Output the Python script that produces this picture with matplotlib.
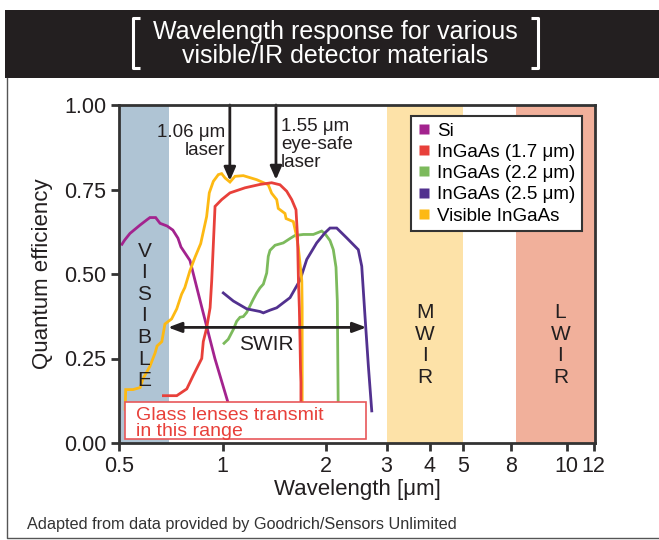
import matplotlib
matplotlib.use("Agg")
import matplotlib.pyplot as plt
from matplotlib.lines import Line2D
from matplotlib.patches import Rectangle

plt.rcParams['font.family'] = ['Liberation Sans', 'DejaVu Sans']

# ---------------- data ----------------
si_w = [0.510, 0.519, 0.538, 0.576, 0.602, 0.615, 0.639, 0.658, 0.690, 0.717, 0.742, 0.757, 0.804, 0.871, 0.950, 1.037, 1.05]
si_q = [0.588, 0.600, 0.620, 0.645, 0.660, 0.667, 0.667, 0.650, 0.642, 0.630, 0.606, 0.580, 0.540, 0.400, 0.250, 0.120, 0.09]

r17_w = [0.673, 0.736, 0.787, 0.822, 0.870, 0.879, 0.899, 0.920, 0.930, 0.951, 0.994, 1.051, 1.162, 1.285, 1.389, 1.469, 1.536, 1.589, 1.635, 1.652, 1.662, 1.672, 1.680, 1.685, 1.690, 1.690]
r17_q = [0.140, 0.140, 0.160, 0.200, 0.250, 0.300, 0.340, 0.400, 0.480, 0.700, 0.720, 0.740, 0.755, 0.765, 0.770, 0.764, 0.745, 0.720, 0.690, 0.610, 0.480, 0.400, 0.300, 0.220, 0.180, 0.080]

g22_w = [1.010, 1.039, 1.075, 1.099, 1.124, 1.149, 1.175, 1.201, 1.228, 1.257, 1.285, 1.314, 1.344, 1.358, 1.374, 1.421, 1.502, 1.571, 1.624, 1.717, 1.836, 1.942, 1.986, 2.053, 2.099, 2.137, 2.156, 2.170]
g22_q = [0.295, 0.307, 0.336, 0.360, 0.372, 0.374, 0.386, 0.405, 0.425, 0.444, 0.459, 0.470, 0.503, 0.552, 0.570, 0.585, 0.592, 0.605, 0.614, 0.617, 0.617, 0.627, 0.619, 0.599, 0.572, 0.520, 0.420, 0.080]

p25_w = [1.005, 1.075, 1.175, 1.285, 1.314, 1.374, 1.437, 1.502, 1.571, 1.680, 1.757, 1.878, 1.986, 2.053, 2.147, 2.295, 2.481, 2.539, 2.595, 2.654, 2.715]
p25_q = [0.444, 0.420, 0.397, 0.389, 0.385, 0.393, 0.400, 0.415, 0.430, 0.482, 0.543, 0.592, 0.622, 0.636, 0.636, 0.607, 0.572, 0.523, 0.375, 0.228, 0.095]

vis_w = [0.521, 0.523, 0.549, 0.576, 0.587, 0.615, 0.637, 0.645, 0.666, 0.680, 0.694, 0.711, 0.736, 0.760, 0.777, 0.804, 0.832, 0.864, 0.899, 0.915, 0.940, 0.972, 0.994, 1.017, 1.051, 1.087, 1.149, 1.257, 1.358, 1.389, 1.437, 1.452, 1.519, 1.530, 1.606, 1.643, 1.660, 1.680, 1.700, 1.704, 1.704]
vis_q = [0.100, 0.158, 0.158, 0.164, 0.190, 0.227, 0.267, 0.287, 0.300, 0.352, 0.359, 0.367, 0.397, 0.440, 0.460, 0.510, 0.550, 0.590, 0.670, 0.740, 0.774, 0.794, 0.797, 0.784, 0.772, 0.789, 0.791, 0.779, 0.764, 0.739, 0.720, 0.694, 0.679, 0.664, 0.655, 0.610, 0.580, 0.530, 0.480, 0.400, 0.080]

series_names = ['Si', 'InGaAs (1.7 \u03bcm)', 'InGaAs (2.2 \u03bcm)', 'InGaAs (2.5 \u03bcm)', 'Visible InGaAs']
series_colors = ['#a3238e', '#e8403a', '#7cba5c', '#52318f', '#fdb913']

bands = [(0.5, 0.7, '#afc4d4', 'VISIBLE'), (3.0, 5.0, '#fde2a8', 'MWIR'), (7.15, 12.1, '#f1b09b', 'LWIR')]

xticks = [0.5, 1, 2, 3, 4, 5, 6.9, 10, 12]
xtick_labels = ['0.5', '1', '2', '3', '4', '5', '8', '10', '12']
yticks = [0.0, 0.25, 0.5, 0.75, 1.0]
ytick_labels = ['0.00', '0.25', '0.50', '0.75', '1.00']

laser_x = [1.05, 1.43]
laser_tip = [0.776, 0.779]
swir_range = (0.694, 2.62)
glass_box = (0.520, 2.61, 0.012, 0.122)

# ---------------- figure ----------------
W, H = 659, 540
fig = plt.figure(figsize=(W / 100, H / 100), dpi=100)

def fx(x):
    return x / W

def fy(y):
    return 1 - y / H

# header
fig.patches.append(Rectangle((fx(5), fy(78)), fx(654), 68 / H, transform=fig.transFigure,
                             facecolor='#231f20', edgecolor='none', zorder=0))
fig.text(fx(335), fy(44), 'Wavelength response for various\nvisible/IR detector materials',
         color='white', fontsize=18, ha='center', va='center', linespacing=1.05)
# brackets
bk = dict(color='white', lw=2.2, transform=fig.transFigure, solid_capstyle='butt')
fig.lines.append(Line2D([fx(140), fx(133), fx(133), fx(140)], [fy(18), fy(18), fy(68), fy(68)], **bk))
fig.lines.append(Line2D([fx(531), fx(538), fx(538), fx(531)], [fy(18), fy(18), fy(68), fy(68)], **bk))

# outer frame (left and bottom)
fig.lines.append(Line2D([fx(7), fx(7), fx(659)], [fy(78), fy(538), fy(538)], color='#555555', lw=1.0,
                        transform=fig.transFigure))

ax = fig.add_axes([fx(119), fy(443), (595 - 119) / W, (443 - 105) / H])
ax.set_xscale('log')
ax.set_xlim(0.5, 12.1)
ax.set_ylim(0, 1.0)

for lo, hi, c, name in bands:
    ax.axvspan(lo, hi, color=c, lw=0, zorder=0)

ws = [si_w, r17_w, g22_w, p25_w, vis_w]
qs = [si_q, r17_q, g22_q, p25_q, vis_q]
zs = {0: 3, 1: 4, 2: 3, 3: 3, 4: 3.5}
for i in range(5):
    ax.plot(ws[i], qs[i], color=series_colors[i], lw=2.0, zorder=zs[i], solid_joinstyle='miter')

# glass lenses box
gx0, gx1, gy0, gy1 = glass_box
ax.add_patch(Rectangle((gx0, gy0), gx1 - gx0, gy1 - gy0, facecolor='white', edgecolor='#e8585a',
                       lw=1.2, zorder=6))
ax.text(0.562, 0.058, 'Glass lenses transmit\nin this range', color='#e8403a', fontsize=14,
        ha='left', va='center', linespacing=0.95, zorder=7)

# laser arrows
for x, tip in zip(laser_x, laser_tip):
    ax.annotate('', xy=(x, tip), xytext=(x, 1.0),
                arrowprops=dict(arrowstyle='-|>,head_length=0.8,head_width=0.35', color='#231f20',
                                lw=2.0, shrinkA=0, shrinkB=0), zorder=8)
ax.text(1.02, 0.892, '1.06 \u03bcm\nlaser', fontsize=13.5, ha='right', va='center', color='#231f20',
        linespacing=1.08)
ax.text(1.48, 0.884, '1.55 \u03bcm\neye-safe\nlaser', fontsize=13.5, ha='left', va='center', color='#231f20',
        linespacing=1.08)

# SWIR arrow
ax.annotate('', xy=(swir_range[1], 0.342), xytext=(swir_range[0], 0.342),
            arrowprops=dict(arrowstyle='<|-|>,head_length=0.8,head_width=0.3', color='#231f20',
                            lw=2.0, shrinkA=0, shrinkB=0), zorder=8)
ax.text(1.344, 0.290, 'SWIR', fontsize=15, ha='center', va='center', color='#231f20')

# vertical band labels
def vlabel(xc, word, y_top, step):
    for k, ch in enumerate(word):
        ax.text(xc, y_top - k * step, ch, fontsize=15, ha='center', va='center', color='#231f20', zorder=5)

vlabel(0.593, 'VISIBLE', 0.568, 0.064)
vlabel(3.87, 'MWIR', 0.386, 0.064)
vlabel(9.6, 'LWIR', 0.386, 0.064)

# legend
handles = [Line2D([], [], ls='none', marker='s', markersize=7, markerfacecolor=c, markeredgecolor='none')
           for c in series_colors]
leg = ax.legend(handles, series_names, loc='upper left', bbox_to_anchor=(0.613, 0.968), borderaxespad=0,
                fontsize=13.5, frameon=True, fancybox=False, framealpha=1, edgecolor='#333333',
                handlelength=0.7, handletextpad=0.35, labelspacing=0.22, borderpad=0.35)
leg.get_frame().set_linewidth(1.5)
leg.set_zorder(10)

# axes styling
ax.set_xticks(xticks)
ax.set_xticklabels(xtick_labels)
ax.xaxis.set_minor_locator(matplotlib.ticker.NullLocator())
ax.set_yticks(yticks)
ax.set_yticklabels(ytick_labels)
ax.tick_params(axis='both', direction='out', length=6, width=2, color='#333333', labelsize=15.5,
               labelcolor='#231f20', pad=3)
for s in ax.spines.values():
    s.set_linewidth(2.0)
    s.set_color('#333333')
    s.set_zorder(9)
ax.set_xlabel('Wavelength [\u03bcm]', fontsize=16, color='#231f20', labelpad=2)
ax.set_ylabel('Quantum efficiency', fontsize=16, color='#231f20', labelpad=8)

fig.text(fx(27), fy(524), 'Adapted from data provided by Goodrich/Sensors Unlimited', fontsize=11.7,
         color='#333333', ha='left', va='center')

fig.savefig('out.png', dpi=100)
